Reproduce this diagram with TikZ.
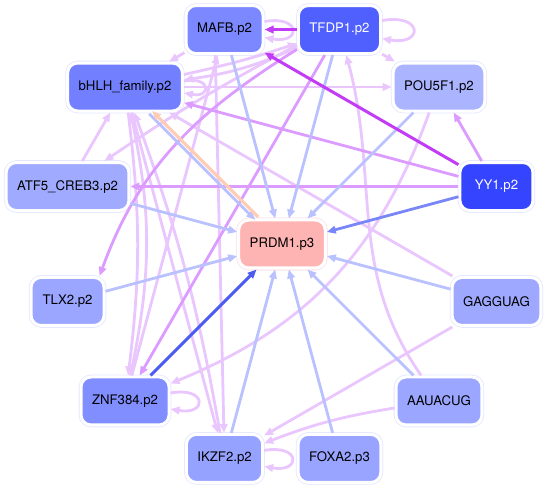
\documentclass[tikz,border=0pt]{standalone}
\usepackage{fontspec}
\setmainfont{TeX Gyre Heros}
\usepackage{xcolor}
\usetikzlibrary{arrows.meta,calc}

\definecolor{lav}{HTML}{E4E7FF}
\definecolor{rim}{HTML}{FFE6E6}
\definecolor{eLP}{HTML}{EAC6FF}
\definecolor{eMP}{HTML}{DC9CFF}
\definecolor{eDP}{HTML}{C23CF5}
\definecolor{eLB}{HTML}{B9C1FF}
\definecolor{eMB}{HTML}{7886F7}
\definecolor{eDB}{HTML}{4C5BF0}
\definecolor{ePE}{HTML}{FFCCB6}
\definecolor{cPRDM}{HTML}{FFB4B4}
\definecolor{cMAFB}{HTML}{7B88FF}
\definecolor{cTFDP}{HTML}{5060FF}
\definecolor{cPOU}{HTML}{AAB4FF}
\definecolor{cYY}{HTML}{3444FF}
\definecolor{cGAG}{HTML}{9EA8FF}
\definecolor{cAAU}{HTML}{9AA6FF}
\definecolor{cFOXA}{HTML}{98A4FF}
\definecolor{cIKZF}{HTML}{96A2FF}
\definecolor{cZN}{HTML}{808EFF}
\definecolor{cTLX}{HTML}{9AA6FF}
\definecolor{cATF}{HTML}{A0AAFF}
\definecolor{cBHLH}{HTML}{7280FF}

\begin{document}
\begin{tikzpicture}[
  x=1pt, y=1pt,
  font=\fontsize{13.2}{15}\selectfont,
  >={Triangle[length=9pt,width=7.5pt]},
  box/.style={
    draw=white, line width=3pt, rounded corners=10pt,
    preaction={draw=lav, line width=4.6pt},
    minimum width=73pt, minimum height=48pt, inner xsep=11pt
  },
  tf/.style={box, fill=#1},
  arr/.style={->, line width=2.8pt},
  lp/.style={arr, color=eLP},
  mp/.style={arr, color=eMP},
  dp/.style={arr, color=eDP, line width=3pt},
  lb/.style={arr, color=eLB},
  mb/.style={arr, color=eMB},
  db/.style={arr, color=eDB, line width=3pt},
  pe/.style={arr, color=ePE, line width=3.2pt}
]
  \useasboundingbox (0,0) rectangle (548,489);
  \coordinate (ctr) at (282,245);

  \node[tf=cPRDM, preaction={draw=rim, line width=4.6pt}] (prdm) at (ctr) {PRDM1.p3};
  \node[tf=cMAFB] (mafb) at ($(ctr)+(105:222)$) {MAFB.p2};
  \node[tf=cTFDP, text=white] (tfdp) at ($(ctr)+(75:222)$) {TFDP1.p2};
  \node[tf=cPOU] (pou) at ($(ctr)+(45:222)$) {POU5F1.p2};
  \node[tf=cYY, text=white] (yy) at ($(ctr)+(15:222)$) {YY1.p2};
  \node[tf=cGAG] (gag) at ($(ctr)+(-15:222)$) {GAGGUAG};
  \node[tf=cAAU] (aau) at ($(ctr)+(-45:222)$) {AAUACUG};
  \node[tf=cFOXA] (foxa) at ($(ctr)+(-75:222)$) {FOXA2.p3};
  \node[tf=cIKZF] (ikzf) at ($(ctr)+(-105:222)$) {IKZF2.p2};
  \node[tf=cZN] (zn) at ($(ctr)+(-135:222)$) {ZNF384.p2};
  \node[tf=cTLX] (tlx) at ($(ctr)+(-165:222)$) {TLX2.p2};
  \node[tf=cATF] (atf) at ($(ctr)+(165:222)$) {ATF5\_CREB3.p2};
  \node[tf=cBHLH] (bhlh) at ($(ctr)+(135:222)$) {bHLH\_family.p2};

  % self loops
  \foreach \n/\d in {mafb/8, tfdp/9, bhlh/6, zn/8, ikzf/8}
    \draw[lp] ([yshift=\d pt]\n.east) to[out=10,in=-10,looseness=6] ([yshift=-\d pt]\n.east);

  % light purple links
  \foreach \a/\b in {mafb/bhlh, tfdp/pou, bhlh/pou, atf/bhlh, gag/bhlh,
                     bhlh/ikzf, zn/mafb, gag/ikzf}
    \draw[lp] (\a) -- (\b);
  \draw[lp] (mafb.-110) -- (ikzf);
  \draw[lp] (aau) to[bend right=6] (ikzf);
  \draw[lp] (ikzf) to[bend right=5] (bhlh);
  \draw[lp] (zn) to[bend right=12] (bhlh);
  \draw[lp] (bhlh) to[bend left=7] (zn);
  \draw[lp] (bhlh) to[bend right=3] (tfdp);
  \draw[lp] (tfdp) to[bend left=8] (bhlh);
  \draw[lp] (tfdp.200) to[bend right=3] (atf);
  \draw[lp] (pou) to[bend left=24] (zn);
  \draw[lp] (aau) to[out=125,in=-75] (tfdp);

  % medium purple links
  \draw[mp] (yy) -- (pou);
  \draw[mp] (yy) -- (bhlh);
  \draw[mp] (yy) -- (atf);
  \draw[mp] (tfdp) -- (zn);
  \draw[mp] (tfdp.205) to[out=212,in=70] ([xshift=-6pt]tlx.north east);

  % regulators of PRDM1
  \foreach \s in {mafb, tfdp, pou, gag, aau, foxa, ikzf, tlx, atf}
    \draw[lb] (\s) -- (prdm);
  \draw[lb, transform canvas={shift={(-1.3pt,-1.3pt)}}] (bhlh) -- (prdm);
  \draw[pe, transform canvas={shift={(1.6pt,1.6pt)}}] (prdm) -- (bhlh);
  \draw[mb] (yy) -- (prdm);
  \draw[db] (zn) -- (prdm);

  \draw[dp] (tfdp) -- (mafb);
  \draw[dp] (yy) -- (mafb);
\end{tikzpicture}
\end{document}
